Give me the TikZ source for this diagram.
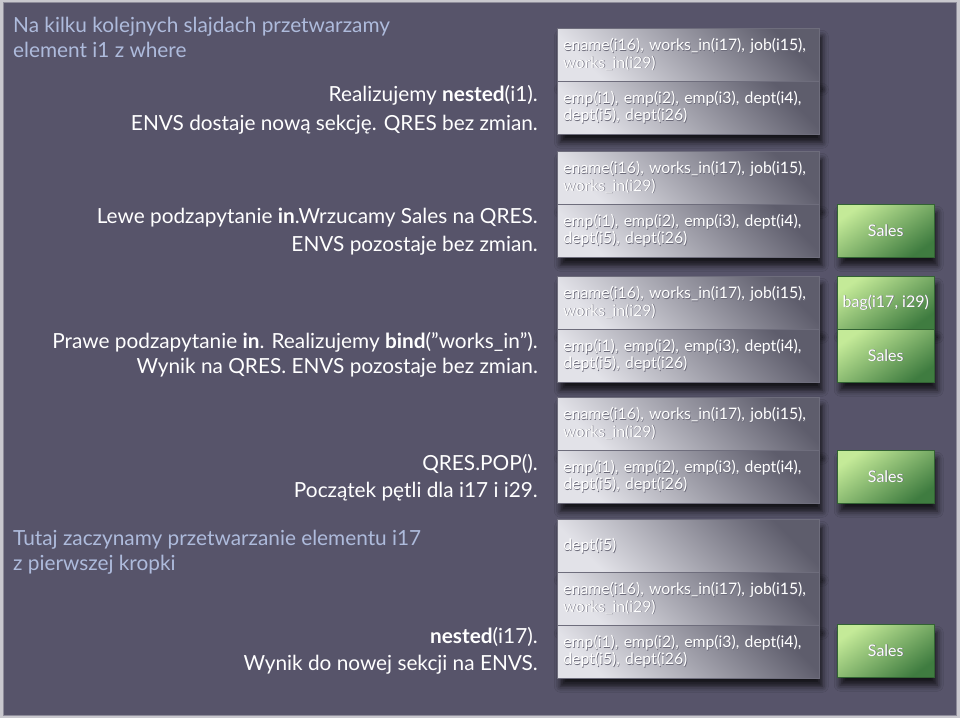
\documentclass[tikz,border=0pt]{standalone}
\usepackage{fontspec}
\setmainfont{Lato}
\usetikzlibrary{shadows.blur}
\definecolor{bgc}{HTML}{57546A}
\definecolor{outerc}{HTML}{C9C8CE}
\definecolor{framec}{HTML}{8E8C9A}
\definecolor{notec}{HTML}{AEBBDC}
\definecolor{celllight}{HTML}{E2E2E8}
\definecolor{celldark}{HTML}{5E5D6C}
\definecolor{cellline}{HTML}{6E6D7C}
\definecolor{greenlight}{HTML}{C4EA98}
\definecolor{greendark}{HTML}{3F7C40}
\definecolor{txtshadow}{HTML}{6C6B7A}
\newcommand\shtxt[1]{\leavevmode\rlap{\kern0.6pt\raisebox{-0.8pt}{\textcolor{txtshadow}{#1}}}#1}
\tikzset{
  cellbox/.style={rectangle, anchor=north west, draw=cellline, line width=0.7pt,
    minimum width=262pt, minimum height=53pt, text width=250pt, inner xsep=6pt, inner ysep=0pt,
    align=left, text=white,
    font=\fontsize{15.8}{17.5}\selectfont,
    top color=celldark, bottom color=celllight, shading angle=-45,
    blur shadow={shadow xshift=3pt, shadow yshift=-8pt, shadow blur radius=6pt, shadow opacity=75}},
  greenbox/.style={rectangle, anchor=north west, draw=greendark!80!black, line width=0.5pt,
    minimum width=97pt, minimum height=53pt, inner sep=0pt, text=white,
    font=\fontsize{16}{18}\selectfont,
    top color=greenlight, bottom color=greendark, shading angle=35,
    blur shadow={shadow xshift=3pt, shadow yshift=-8pt, shadow blur radius=6pt, shadow opacity=75}},
  rtext/.style={anchor=base east, inner sep=0pt, text=white, font=\fontsize{20.8}{24}\selectfont},
  ltext/.style={anchor=base west, inner sep=0pt, text=notec, font=\fontsize{20.8}{24}\selectfont},
}
\begin{document}
\begin{tikzpicture}[x=1pt,y=-1pt]
\useasboundingbox (0,0) rectangle (960,718);
\fill[outerc] (0,0) rectangle (960,718);
\draw[framec, fill=bgc, line width=1pt] (3.5,2.5) rectangle (956.5,715.5);

% left notes
\node[ltext] (n1a) at (13,32) {Na kilku kolejnych slajdach przetwarzamy};
\node[ltext] (n1b) at (13,57) {element i1 z where};
\node[rtext] (r1a) at (538,101) {Realizujemy \textbf{nested}(i1).};
\node[rtext] (r1b) at (538,130) {ENVS dostaje nową sekcję. QRES bez zmian.};
\node[rtext] (r2a) at (538,223) {Lewe podzapytanie \textbf{in}.Wrzucamy Sales na QRES.};
\node[rtext] (r2b) at (538,251) {ENVS pozostaje bez zmian.};
\node[rtext] (r3a) at (538,348) {Prawe podzapytanie \textbf{in}. Realizujemy \textbf{bind}(”works\_in”).};
\node[rtext] (r3b) at (538,373) {Wynik na QRES. ENVS pozostaje bez zmian.};
\node[rtext] (r4a) at (538,470) {QRES.POP().};
\node[rtext] (r4b) at (538,497) {Początek pętli dla i17 i i29.};
\node[ltext] (n2a) at (13,545) {Tutaj zaczynamy przetwarzanie elementu i17};
\node[ltext] (n2b) at (13,570) {z pierwszej kropki};
\node[rtext] (r5a) at (538,643) {\textbf{nested}(i17).};
\node[rtext] (r5b) at (538,670) {Wynik do nowej sekcji na ENVS.};

% stack 1
\node[cellbox] (s1a) at (557,28) {\shtxt{ename(i16), works\_in(i17), job(i15),}\\\shtxt{works\_in(i29)}};
\node[cellbox] (s1b) at (557,81) {\shtxt{emp(i1), emp(i2), emp(i3), dept(i4),}\\\shtxt{dept(i5), dept(i26)}};
% stack 2
\node[cellbox] (s2a) at (557,151) {\shtxt{ename(i16), works\_in(i17), job(i15),}\\\shtxt{works\_in(i29)}};
\node[cellbox] (s2b) at (557,204) {\shtxt{emp(i1), emp(i2), emp(i3), dept(i4),}\\\shtxt{dept(i5), dept(i26)}};
\node[greenbox] (g2) at (837,204) {\shtxt{Sales}};
% stack 3
\node[cellbox] (s3a) at (557,276) {\shtxt{ename(i16), works\_in(i17), job(i15),}\\\shtxt{works\_in(i29)}};
\node[cellbox] (s3b) at (557,329) {\shtxt{emp(i1), emp(i2), emp(i3), dept(i4),}\\\shtxt{dept(i5), dept(i26)}};
\node[greenbox] (g3a) at (837,276) {\shtxt{bag(i17, i29)}};
\node[greenbox] (g3b) at (837,329) {\shtxt{Sales}};
% stack 4
\node[cellbox] (s4a) at (557,397) {\shtxt{ename(i16), works\_in(i17), job(i15),}\\\shtxt{works\_in(i29)}};
\node[cellbox] (s4b) at (557,450) {\shtxt{emp(i1), emp(i2), emp(i3), dept(i4),}\\\shtxt{dept(i5), dept(i26)}};
\node[greenbox] (g4) at (837,450) {\shtxt{Sales}};
% stack 5
\node[cellbox] (s5a) at (557,519) {\shtxt{dept(i5)}};
\node[cellbox] (s5b) at (557,572) {\shtxt{ename(i16), works\_in(i17), job(i15),}\\\shtxt{works\_in(i29)}};
\node[cellbox] (s5c) at (557,625) {\shtxt{emp(i1), emp(i2), emp(i3), dept(i4),}\\\shtxt{dept(i5), dept(i26)}};
\node[greenbox] (g5) at (837,624) {\shtxt{Sales}};
\end{tikzpicture}
\end{document}
